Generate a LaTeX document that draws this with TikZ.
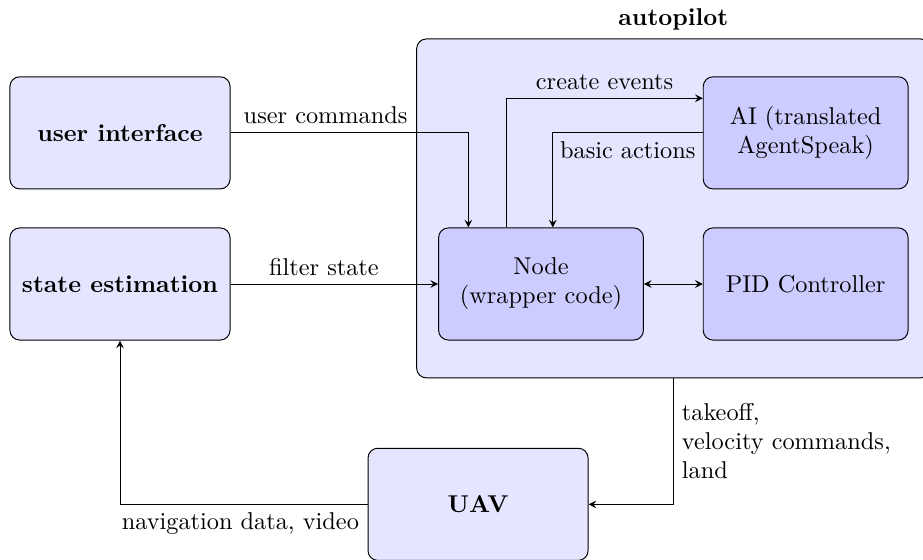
\documentclass[tikz,border=0pt]{standalone}
\usepackage{tikz}
\usetikzlibrary{arrows.meta,calc,fit,positioning,backgrounds}
\tikzset{
  block/.style={rounded corners=4pt,draw=black,fill=blue!10,line width=0.4pt,
                minimum width=3.18cm,minimum height=1.62cm,align=center,font=\bfseries},
  subblock/.style={block,fill=blue!20,minimum width=2.96cm,font=\normalfont},
  group/.style={rounded corners=4pt,draw=black,fill=blue!10,inner xsep=0.31cm,inner ysep=0.54cm},
  link/.style={-stealth,line width=0.4pt},
  biglink/.style={stealth-stealth,line width=0.4pt}
}

\begin{document}
\begin{tikzpicture}[node distance=0.55cm and 3.0cm]
    \useasboundingbox (-1.734,-3.974) rectangle (11.604,4.104);
    \node[block] (state) {state estimation};
    \node[block,above=of state] (user) {user interface};
    \node[subblock,right=of state] (wrap) {Node\\(wrapper code)};
    \node[subblock,right=0.85cm of wrap] (pid) {PID Controller};
    \node[subblock,above=of pid] (ai) {AI (translated\\AgentSpeak)};
    \node[block,below right=1.55cm and 1.98cm of state] (uav) {UAV};
    \begin{scope}[on background layer]
      \node[group,fit=(wrap)(ai)(pid),label={[font=\bfseries]above:autopilot}] (pilot) {};
    \end{scope}
    \draw[link] (user.east) -| ($(wrap.north)+(-1.05,0)$) node[above,pos=0.2]{user commands};
    \draw[link] (state.east) -- (wrap.west) node[above,pos=0.45]{filter state};
    \draw[link] ($(wrap.north)+(-0.5,0)$) |- ($(ai.west)+(0,0.5)$) node[above,pos=0.75]{create events};
    \draw[link] (ai.west) -| ($(wrap.north)+(0.17,0)$) node[below,pos=0.25]{basic actions};
    \draw[biglink] (wrap.east) -- (pid.west);
    \draw[link] (pilot.south) |- (uav.east)
      node[right,pos=0.25,align=left]{takeoff,\\velocity commands,\\land};
    \draw[link] (uav.west) -| (state.south) node[below left,pos=0]{navigation data, video};
\end{tikzpicture}
\end{document}
